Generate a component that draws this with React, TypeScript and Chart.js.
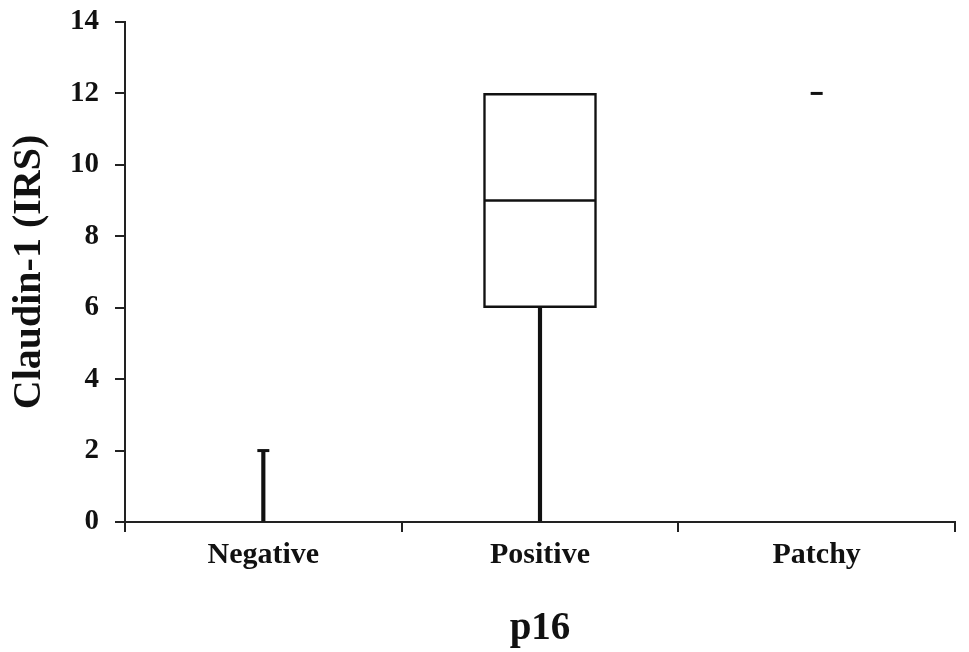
import React, { useEffect, useRef } from "react";
import Chart from "chart.js/auto";

const categories = ["Negative", "Positive", "Patchy"];
const minValues = [0, 0, 12];
const q1Values = [0, 6, 12];
const medianValues = [0, 9, 12];
const q3Values = [0, 12, 12];
const maxValues = [2, 12, 12];
const yTicks = [0, 2, 4, 6, 8, 10, 12, 14];
const xTitle = "p16";
const yTitle = "Claudin-1 (IRS)";

const FONT = "'Liberation Serif', 'Times New Roman', serif";

export default function App() {
  const ref = useRef<HTMLCanvasElement | null>(null);

  useEffect(() => {
    if (!ref.current) return;
    const hasBox = categories.map((_, i) => q3Values[i] > q1Values[i]);
    const chart = new Chart(ref.current, {
      type: "bar",
      data: {
        labels: categories,
        datasets: [
          {
            type: "bar",
            data: categories.map((_, i) =>
              q1Values[i] > minValues[i] ? [minValues[i], q1Values[i]] : null
            ) as any,
            backgroundColor: "#111",
            borderWidth: 0,
            barThickness: 3.5,
            grouped: false,
            order: 5,
          },
          {
            type: "bar",
            data: categories.map((_, i) =>
              maxValues[i] > q3Values[i] ? [q3Values[i], maxValues[i]] : null
            ) as any,
            backgroundColor: "#111",
            borderWidth: 0,
            barThickness: 3.5,
            grouped: false,
            order: 4,
          },
          {
            type: "bar",
            data: categories.map((_, i) =>
              hasBox[i] ? [q1Values[i], q3Values[i]] : null
            ) as any,
            backgroundColor: "#ffffff",
            borderColor: "#111",
            borderWidth: 2.5,
            borderSkipped: false,
            barThickness: 113,
            grouped: false,
            order: 3,
          },
          {
            type: "line",
            data: categories.map((_, i) => (hasBox[i] ? medianValues[i] : null)),
            showLine: false,
            pointStyle: "line",
            pointRadius: 56,
            pointHoverRadius: 56,
            pointBorderWidth: 2.5,
            pointBorderColor: "#111",
            borderColor: "#111",
            order: 2,
          },
          {
            type: "line",
            data: categories.map((_, i) =>
              !hasBox[i] || maxValues[i] > q3Values[i] ? maxValues[i] : null
            ),
            showLine: false,
            pointStyle: "line",
            pointRadius: 6,
            pointHoverRadius: 6,
            pointBorderWidth: 3,
            pointBorderColor: "#111",
            borderColor: "#111",
            order: 1,
          },
        ],
      },
      options: {
        responsive: false,
        maintainAspectRatio: false,
        animation: false,
        events: [],
        layout: { autoPadding: false, padding: { left: 0, top: 22, right: 14, bottom: 0 } },
        plugins: {
          legend: { display: false },
          tooltip: { enabled: false },
        },
        scales: {
          x: {
            offset: true,
            grid: {
              display: true,
              offset: true,
              drawOnChartArea: false,
              drawTicks: true,
              tickLength: 10,
              color: "#222",
              lineWidth: 2,
            },
            border: { display: true, color: "#222", width: 2 },
            ticks: {
              color: "#111",
              padding: 5,
              maxRotation: 0,
              font: { family: FONT, size: 30, weight: "bold" },
            },
            title: {
              display: true,
              text: xTitle,
              color: "#111",
              padding: { top: 8, bottom: 0 },
              font: { family: FONT, size: 39, weight: "bold" },
            },
            afterFit: (scale: any) => {
              scale.height = 130;
              scale.paddingLeft = 0;
              scale.paddingRight = 0;
            },
          },
          y: {
            min: 0,
            max: 14,
            afterBuildTicks: (scale: any) => {
              scale.ticks = yTicks.map((v) => ({ value: v }));
            },
            grid: {
              display: true,
              drawOnChartArea: false,
              drawTicks: true,
              tickLength: 10,
              color: "#222",
              lineWidth: 2,
            },
            border: { display: true, color: "#222", width: 2 },
            ticks: {
              color: "#111",
              padding: 16,
              font: { family: FONT, size: 29, weight: "bold" },
            },
            title: {
              display: true,
              text: yTitle,
              color: "#111",
              padding: { top: 6, bottom: 0 },
              font: { family: FONT, size: 40, weight: "bold" },
            },
            afterFit: (scale: any) => {
              scale.width = 125;
              scale.paddingTop = 0;
              scale.paddingBottom = 0;
            },
          },
        },
      } as any,
    });
    return () => chart.destroy();
  }, []);

  return (
    <div style={{ position: "absolute", left: 0, top: 0, width: 969, height: 652, background: "#fff" }}>
      <canvas ref={ref} width={969} height={652} style={{ display: "block" }} />
    </div>
  );
}
